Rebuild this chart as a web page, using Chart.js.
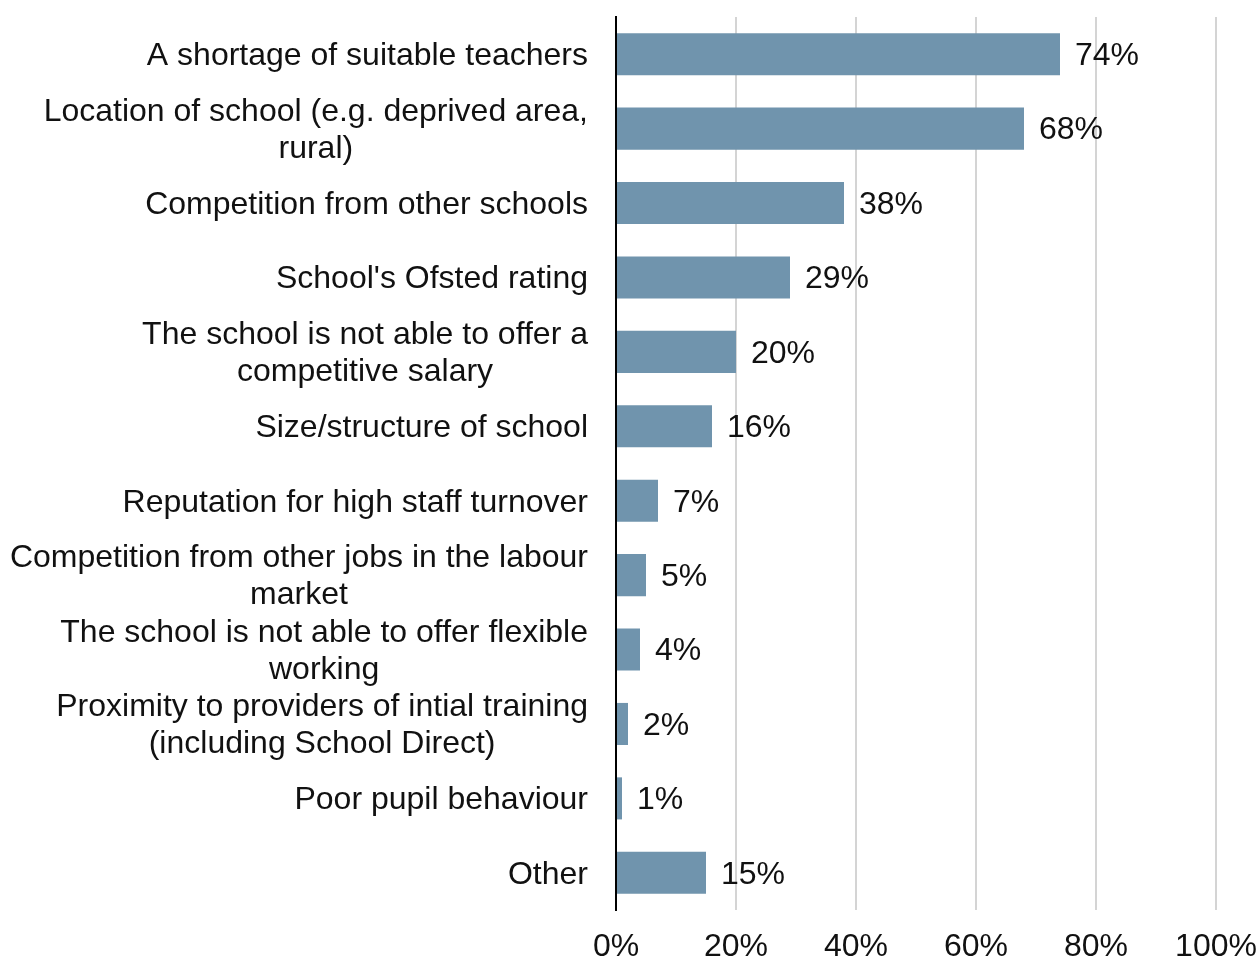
<!DOCTYPE html>
<html>
<head>
<meta charset="utf-8">
<script src="https://cdn.jsdelivr.net/npm/chart.js@4"></script>
<style>
  html, body { margin: 0; padding: 0; background: #fff; }
  #wrap { width: 1258px; height: 961px; }
</style>
</head>
<body>
<div id="wrap"><canvas id="chart" width="1258" height="961"></canvas></div>
<script>
// Chart data
const categories = [
    ['A shortage of suitable teachers'],
    ['Location of school (e.g. deprived area,', 'rural)'],
    ['Competition from other schools'],
    ["School's Ofsted rating"],
    ['The school is not able to offer a', 'competitive salary'],
    ['Size/structure of school'],
    ['Reputation for high staff turnover'],
    ['Competition from other jobs in the labour', 'market'],
    ['The school is not able to offer flexible', 'working'],
    ['Proximity to providers of intial training', '(including School Direct)'],
    ['Poor pupil behaviour'],
    ['Other']
];
const values = [74, 68, 38, 29, 20, 16, 7, 5, 4, 2, 1, 15];
const xTicks = [0, 20, 40, 60, 80, 100];

const FONT = "'Liberation Sans', Arial, sans-serif";
const FONT_SIZE = 32;
const LINE_H = 37;

// Draws the category labels (right-aligned block, centred lines) and value labels
const labelPlugin = {
    id: 'labels',
    afterDatasetsDraw(chart) {
        const ctx = chart.ctx;
        const yScale = chart.scales.y;
        const meta = chart.getDatasetMeta(0);
        ctx.save();
        ctx.font = FONT_SIZE + 'px ' + FONT;
        ctx.fillStyle = '#111';
        ctx.textBaseline = 'middle';
        ctx.textAlign = 'center';

        const rightEdge = chart.chartArea.left - 28;
        categories.forEach((lines, i) => {
            const yc = yScale.getPixelForValue(i) + 2;
            const maxW = Math.max(...lines.map(l => ctx.measureText(l).width));
            const cx = rightEdge - maxW / 2;
            const y0 = yc - (lines.length - 1) * LINE_H / 2;
            lines.forEach((l, j) => ctx.fillText(l, cx, y0 + j * LINE_H));
        });

        ctx.textAlign = 'left';
        meta.data.forEach((bar, i) => {
            ctx.fillText(values[i] + '%', bar.x + 15, bar.y + 2);
        });
        ctx.restore();
    }
};

const ctx = document.getElementById('chart').getContext('2d');
new Chart(ctx, {
    type: 'bar',
    data: {
        labels: categories,
        datasets: [{
            data: values,
            backgroundColor: '#7094ad',
            borderWidth: 0,
            barPercentage: 0.565,
            categoryPercentage: 1
        }]
    },
    options: {
        indexAxis: 'y',
        responsive: false,
        animation: false,
        layout: { padding: { top: 17, right: 42, left: 0, bottom: 0 } },
        plugins: {
            legend: { display: false },
            tooltip: { enabled: false }
        },
        scales: {
            x: {
                min: 0,
                max: 100,
                afterBuildTicks(scale) {
                    scale.ticks = xTicks.map(v => ({ value: v }));
                },
                afterFit(scale) {
                    scale.height = 51;
                    scale.paddingLeft = 0;
                    scale.paddingRight = 0;
                },
                grid: {
                    color: ctx => ctx.tick && ctx.tick.value === 0 ? 'rgba(0,0,0,0)' : '#d4d4d4',
                    lineWidth: 2,
                    drawTicks: false
                },
                border: { display: false },
                ticks: {
                    padding: 18,
                    color: '#111',
                    maxRotation: 0,
                    font: { family: FONT, size: FONT_SIZE },
                    callback: v => v + '%'
                }
            },
            y: {
                afterFit(scale) { scale.width = 616; },
                grid: { display: false, drawTicks: false },
                border: { display: true, color: '#000', width: 2 },
                ticks: { display: false }
            }
        }
    },
    plugins: [labelPlugin]
});
</script>
</body>
</html>
